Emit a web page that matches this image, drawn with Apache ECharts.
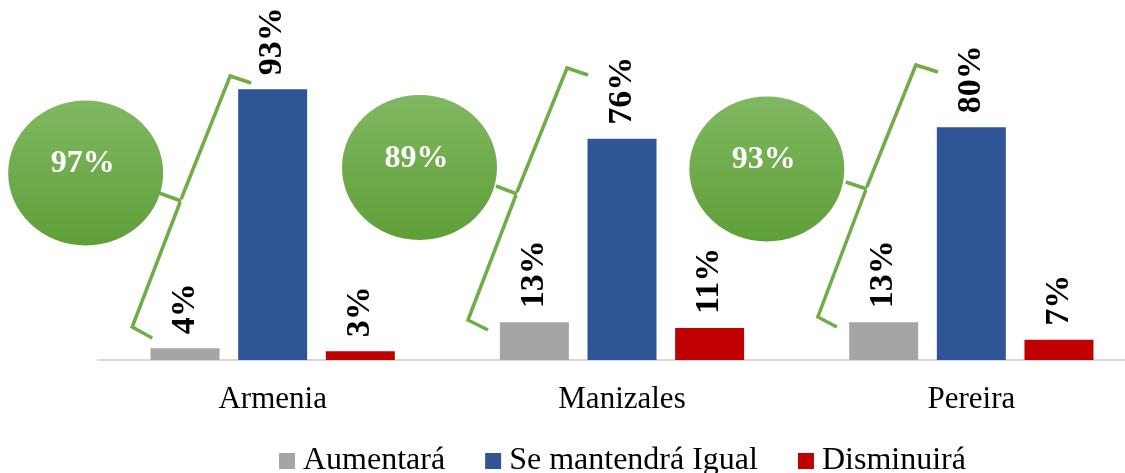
<!DOCTYPE html>
<html>
<head>
<meta charset="utf-8">
<script src="https://cdn.jsdelivr.net/npm/echarts@6/dist/echarts.min.js"></script>
<style>
  html, body { margin: 0; padding: 0; background: #ffffff; }
  #chart { width: 1125px; height: 473px; }
</style>
</head>
<body>
<div id="chart"></div>
<script>
// Expectations by city (%)
const categories = ['Armenia', 'Manizales', 'Pereira'];
const seriesNames = ['Aumentará', 'Se mantendrá Igual', 'Disminuirá'];
const aumentara = [4, 13, 13];
const seMantendra = [93, 76, 80];
const disminuira = [3, 11, 7];

// Combined share (Aumentará + Se mantendrá Igual) shown in the green bubbles
const combined = categories.map((_, i) => aumentara[i] + seMantendra[i]);

const SERIF = "'Liberation Serif', 'Times New Roman', serif";
const colors = ['#a5a5a5', '#2f5597', '#c00000'];
const GREEN = '#70ad47';

// Bubble + brace geometry, x offsets relative to each category centre
const bubbleLayout = [
  { dx: -187, cy: 173, braceDx: [-21.5, -42.5, -91.5, -113.5, -140.5, -120.5], braceY: [83, 76, 199, 193, 327, 338] },
  { dx: -202.5, cy: 167.5, braceDx: [-34, -55, -105, -126, -154, -134], braceY: [75, 68, 192, 186, 320, 330] },
  { dx: -204.5, cy: 169, braceDx: [-33.5, -55.5, -104.5, -125.5, -153.5, -134.5], braceY: [72, 65, 187, 182, 317, 327] }
];

const chart = echarts.init(document.getElementById('chart'), null, { renderer: 'canvas' });

const barLabel = {
  show: true,
  position: 'top',
  rotate: 90,
  align: 'left',
  verticalAlign: 'middle',
  distance: 14,
  formatter: '{c}%',
  fontFamily: SERIF,
  fontWeight: 'bold',
  fontSize: 34,
  color: '#000000'
};

function barSeries(name, data, color) {
  return {
    name: name,
    type: 'bar',
    data: data,
    barWidth: 69,
    barGap: '27%',
    itemStyle: { color: color },
    label: barLabel,
    emphasis: { disabled: true }
  };
}

chart.setOption({
  animation: false,
  backgroundColor: '#ffffff',
  grid: { left: 98, top: 69, bottom: 113, width: 1048, outerBoundsMode: 'none' },
  legend: {
    data: seriesNames,
    left: 274,
    top: 440,
    icon: 'rect',
    itemWidth: 16,
    itemHeight: 16,
    itemGap: 40,
    textStyle: { fontFamily: SERIF, fontSize: 32, color: '#000000', padding: [0, 0, 0, 3] }
  },
  xAxis: {
    type: 'category',
    data: categories,
    axisLine: { show: true, lineStyle: { color: '#d9d9d9', width: 2 } },
    axisTick: { show: false },
    axisLabel: { fontFamily: SERIF, fontSize: 31, color: '#000000', margin: 24 }
  },
  yAxis: {
    type: 'value',
    min: 0,
    max: 100,
    show: false,
    splitLine: { show: false }
  },
  series: [
    barSeries(seriesNames[0], aumentara, colors[0]),
    barSeries(seriesNames[1], seMantendra, colors[1]),
    barSeries(seriesNames[2], disminuira, colors[2])
  ]
});

// Green bubbles with braces grouping the first two bars of each city
const graphics = [];
categories.forEach((cat, i) => {
  const xc = chart.convertToPixel({ xAxisIndex: 0 }, cat);
  const L = bubbleLayout[i];
  const p = L.braceDx.map((d, k) => [xc + d, L.braceY[k]]);
  const braceStyle = { stroke: GREEN, lineWidth: 3.5, fill: null, lineJoin: 'miter' };
  graphics.push({
    type: 'polyline',
    shape: { points: [p[0], p[1], p[2]] },
    style: braceStyle,
    silent: true
  });
  graphics.push({
    type: 'polyline',
    shape: { points: [p[3], [p[2][0], p[2][1] + 2]] },
    style: braceStyle,
    silent: true
  });
  graphics.push({
    type: 'polyline',
    shape: { points: [[p[2][0] - 1, p[2][1] + 3], p[4], p[5]] },
    style: braceStyle,
    silent: true
  });
  graphics.push({
    type: 'ellipse',
    shape: { cx: xc + L.dx, cy: L.cy, rx: 77.5, ry: 72.5 },
    style: {
      fill: new echarts.graphic.LinearGradient(0, 0, 0, 1, [
        { offset: 0, color: '#80b862' },
        { offset: 1, color: '#5f9f37' }
      ]),
      stroke: null
    },
    silent: true,
    z: 10
  });
  graphics.push({
    type: 'text',
    x: xc + L.dx - 3,
    y: L.cy - 9,
    style: {
      text: combined[i] + '%',
      fill: '#ffffff',
      font: 'bold 32px ' + SERIF,
      align: 'center',
      verticalAlign: 'middle'
    },
    silent: true,
    z: 11
  });
});

chart.setOption({ graphic: graphics });
</script>
</body>
</html>
